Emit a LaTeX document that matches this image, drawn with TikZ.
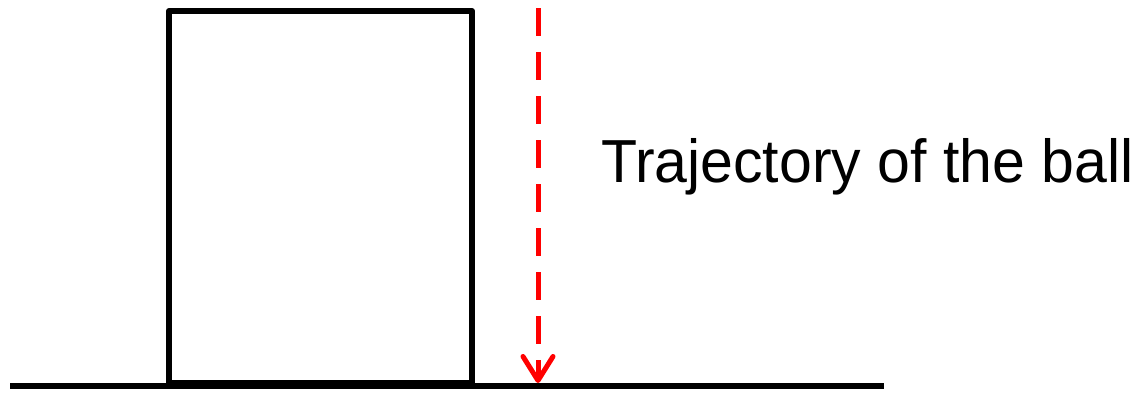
\documentclass[tikz,border=0pt]{standalone}
\usepackage{fontspec}
\setmainfont{Liberation Sans}
\usetikzlibrary{arrows.meta}
\begin{document}
\begin{tikzpicture}[x=1pt,y=-1pt,
  thick line/.style={line width=6pt,line join=round},
  traj/.style={line width=5pt,red,dash pattern=on 28pt off 16pt,-{Straight Barb[length=24pt,width=30pt,line width=5pt,round]}},
  lbl/.style={font=\fontsize{59}{70}\selectfont,anchor=base west,inner sep=0pt,yscale=1.03}]
\useasboundingbox (0,0) rectangle (1136,394);
\coordinate (gl) at (10,386);
\coordinate (gr) at (884,386);
\draw[thick line] (gl) -- (gr);
\node[draw,thick line,minimum width=303pt,minimum height=372pt,inner sep=0pt,anchor=south west] (box) at (166,386) {};
\coordinate (ts) at (538,8);
\coordinate (te) at (538,383);
\draw[traj] (ts) -- (te);
\node[lbl] (label) at (601,182) {Trajectory of the ball};
\end{tikzpicture}
\end{document}
